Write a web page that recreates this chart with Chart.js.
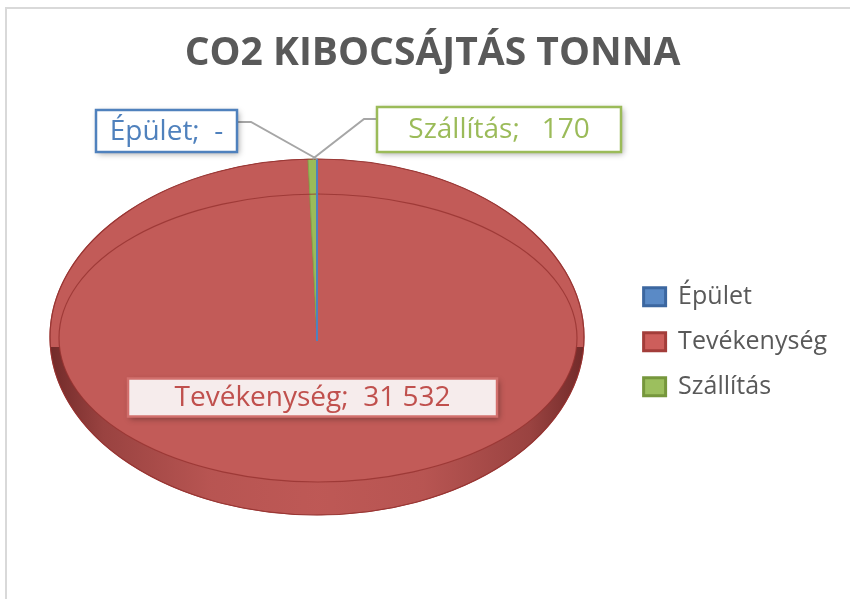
<!DOCTYPE html>
<html lang="hu">
<head>
<meta charset="utf-8">
<title>CO2 kibocsájtás tonna</title>
<script src="https://cdn.jsdelivr.net/npm/chart.js@4.4.1/dist/chart.umd.min.js"></script>
<style>
    html, body { margin: 0; padding: 0; background: #fff; }
    #wrap { width: 850px; height: 599px; }
</style>
</head>
<body>
<div id="wrap"><canvas id="co2-chart"></canvas></div>
<script>
// Adatok (tonna CO2)
const categories = ['Épület', 'Tevékenység', 'Szállítás'];
const values = [0, 31532, 170];

// Színek
const sliceColors = ['#4f81bd', '#c25b58', '#9bbb59'];
const sliceBorders = ['#4f81bd', '#ab4946', '#87a64c'];
const legendFill = ['#5a8ac6', '#cd5e5b', '#9cbf5e'];
const legendStroke = ['#3c67a0', '#a33d3a', '#76973c'];
const labelText = ['#4f81bd', '#c0504d', '#9bbb59'];
const labelBorder = ['#4f81bd', '#d2706d', '#9bbb59'];
const labelFill = ['#ffffff', '#f6ecec', '#ffffff'];

const chartTitle = 'CO2 KIBOCSÁJTÁS TONNA';

// Elrendezés: a "3D" ellipszis vetülete és a címkedobozok
const PIE = { cx: 317, cy: 337, rx: 267, ry: 178 };
const RIM = { cx: 318, cy: 338, rx: 259, ry: 144 };
const LABEL_FONT = '28px "Open Sans"';
const labelBoxes = [
    { x: 96, y: 110, w: 141, h: 42, side: 'left' },        // Épület
    { inside: true, frac: 0.34, dx: -6, w: 369, h: 38 },    // Tevékenység
    { x: 377, y: 107, w: 244, h: 45, side: 'right' }        // Szállítás
];

// 0 -> "-", ezres tagolás szóközzel (Excel könyvelési formátum)
function fmt(v) {
    if (v === 0) return '-';
    const s = String(v).replace(/\B(?=(\d{3})+(?!\d))/g, ' ');
    return s.padStart(4, ' ');
}

function project(angle, frac) {
    return {
        x: PIE.cx + Math.cos(angle) * PIE.rx * frac,
        y: PIE.cy + Math.sin(angle) * PIE.ry * frac
    };
}

// keret a diagram körül
const framePlugin = {
    id: 'frame',
    beforeDraw(chart) {
        const ctx = chart.ctx;
        ctx.save();
        ctx.fillStyle = '#ffffff';
        ctx.fillRect(0, 0, chart.width, chart.height);
        ctx.strokeStyle = '#d9d9d9';
        ctx.lineWidth = 2;
        ctx.beginPath();
        ctx.moveTo(chart.width, 8);
        ctx.lineTo(6, 8);
        ctx.lineTo(6, chart.height);
        ctx.stroke();
        ctx.restore();
    }
};

// a kördiagram lapított (döntött) megjelenítése + perem és oldal árnyék
const pie3dPlugin = {
    id: 'pie3d',
    beforeDatasetsDraw(chart) {
        const arc = chart.getDatasetMeta(0).data[0];
        const ctx = chart.ctx;
        ctx.save();
        ctx.translate(PIE.cx, PIE.cy);
        ctx.scale(PIE.rx / arc.outerRadius, PIE.ry / arc.outerRadius);
        ctx.translate(-arc.x, -arc.y);
    },
    afterDatasetsDraw(chart) {
        const ctx = chart.ctx;
        ctx.restore();

        // oldalfal árnyékolása az alsó félen
        ctx.save();
        ctx.beginPath();
        ctx.ellipse(PIE.cx, PIE.cy, PIE.rx, PIE.ry, 0, 0, Math.PI * 2);
        ctx.ellipse(RIM.cx, RIM.cy, RIM.rx, RIM.ry, 0, 0, Math.PI * 2);
        ctx.clip('evenodd');
        const g = ctx.createLinearGradient(PIE.cx - PIE.rx, 0, PIE.cx + PIE.rx, 0);
        g.addColorStop(0, 'rgba(60,10,10,0.6)');
        g.addColorStop(0.1, 'rgba(60,10,10,0.3)');
        g.addColorStop(0.3, 'rgba(60,10,10,0.08)');
        g.addColorStop(0.5, 'rgba(60,10,10,0.03)');
        g.addColorStop(0.7, 'rgba(60,10,10,0.08)');
        g.addColorStop(0.9, 'rgba(60,10,10,0.3)');
        g.addColorStop(1, 'rgba(60,10,10,0.6)');
        ctx.fillStyle = g;
        ctx.fillRect(PIE.cx - PIE.rx, PIE.cy + 10, PIE.rx * 2, PIE.ry);
        ctx.restore();

        // perem vonal
        ctx.save();
        ctx.strokeStyle = 'rgba(150,50,48,0.8)';
        ctx.lineWidth = 1.2;
        ctx.beginPath();
        ctx.ellipse(RIM.cx, RIM.cy, RIM.rx, RIM.ry, 0, 0, Math.PI * 2);
        ctx.stroke();
        ctx.beginPath();
        ctx.ellipse(PIE.cx, PIE.cy, PIE.rx, PIE.ry, 0, 0, Math.PI * 2);
        ctx.strokeStyle = 'rgba(150,50,48,0.9)';
        ctx.stroke();

        // nulla értékű szelet: Excel ilyenkor is kirajzolja az élét
        const meta = chart.getDatasetMeta(0);
        meta.data.forEach((arc, i) => {
            if (arc.circumference === 0) {
                const c = project(arc.startAngle, 0);
                const e = project(arc.startAngle, 1);
                ctx.strokeStyle = sliceColors[i];
                ctx.lineWidth = 2;
                ctx.beginPath();
                ctx.moveTo(e.x, e.y);
                ctx.lineTo(c.x, c.y + 4);
                ctx.stroke();
            }
        });
        ctx.restore();
    }
};

// adatfeliratok dobozzal és vezetővonallal
const labelPlugin = {
    id: 'pieLabels',
    afterDraw(chart) {
        const ctx = chart.ctx;
        const meta = chart.getDatasetMeta(0);
        ctx.save();
        ctx.font = LABEL_FONT;
        ctx.textAlign = 'center';
        ctx.textBaseline = 'middle';
        meta.data.forEach((arc, i) => {
            const box = labelBoxes[i];
            const mid = (arc.startAngle + arc.endAngle) / 2;
            let bx, by;
            if (box.inside) {
                const p = project(mid, box.frac);
                bx = p.x + box.dx - box.w / 2;
                by = p.y - box.h / 2;
            } else {
                bx = box.x;
                by = box.y;
                const a = project(mid, 1);
                const ly = by + 12;
                const sx = box.side === 'left' ? bx + box.w : bx;
                const kx = box.side === 'left' ? sx + 14 : sx - 13;
                ctx.strokeStyle = '#a6a6a6';
                ctx.lineWidth = 2;
                ctx.beginPath();
                ctx.moveTo(sx, ly);
                ctx.lineTo(kx, ly);
                ctx.lineTo(a.x, a.y);
                ctx.stroke();
            }
            ctx.save();
            ctx.shadowColor = 'rgba(0,0,0,0.35)';
            ctx.shadowBlur = 6;
            ctx.shadowOffsetX = 2;
            ctx.shadowOffsetY = 2;
            ctx.fillStyle = labelFill[i];
            ctx.fillRect(bx, by, box.w, box.h);
            ctx.restore();
            ctx.strokeStyle = labelBorder[i];
            ctx.lineWidth = 2.5;
            ctx.strokeRect(bx, by, box.w, box.h);
            ctx.fillStyle = labelText[i];
            ctx.fillText(categories[i] + ';  ' + fmt(values[i]), bx + box.w / 2, by + box.h / 2 + 1);
        });
        ctx.restore();
    }
};

Chart.defaults.font.family = '"Open Sans", sans-serif';

const co2Chart = new Chart(document.getElementById('co2-chart'), {
    type: 'pie',
    data: {
        labels: categories,
        datasets: [{
            label: chartTitle,
            data: values,
            backgroundColor: sliceColors,
            borderColor: sliceBorders,
            borderWidth: 1
        }]
    },
    options: {
        responsive: true,
        maintainAspectRatio: false,
        animation: false,
        events: [],
        layout: { padding: { left: 28, right: 13, top: 0, bottom: 20 } },
        plugins: {
            title: {
                display: true,
                text: chartTitle,
                color: '#595959',
                font: { size: 39, weight: 'bold' },
                padding: { top: 30, bottom: 10 }
            },
            legend: {
                position: 'right',
                align: 'start',
                // üres legenda-cím csak térközként, hogy a tételek a kör magasságában legyenek
                title: { display: true, text: ' ', font: { size: 1 }, padding: { top: 263, bottom: 0 } },
                labels: {
                    color: '#595959',
                    font: { size: 25 },
                    boxWidth: 22,
                    boxHeight: 18,
                    padding: 20,
                    generateLabels() {
                        return categories.map((name, i) => ({
                            text: name,
                            fillStyle: legendFill[i],
                            strokeStyle: legendStroke[i],
                            lineWidth: 3,
                            fontColor: '#595959',
                            hidden: false,
                            index: i
                        }));
                    }
                }
            },
            tooltip: { enabled: false }
        }
    },
    plugins: [framePlugin, pie3dPlugin, labelPlugin]
});
</script>
</body>
</html>
